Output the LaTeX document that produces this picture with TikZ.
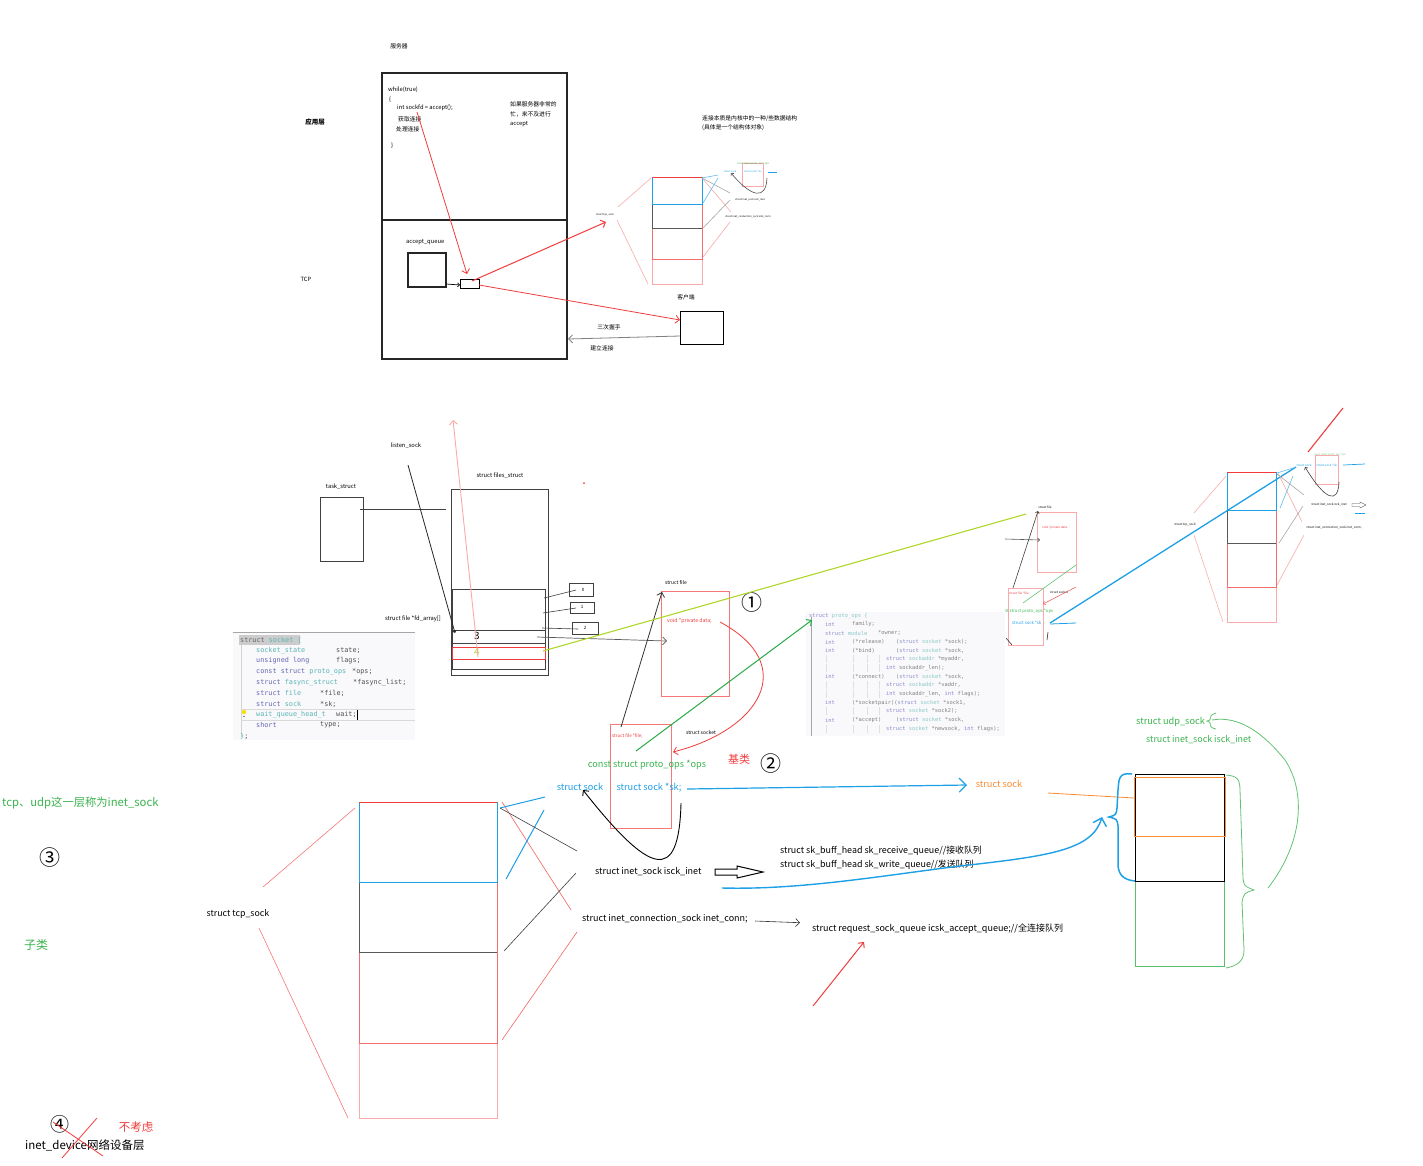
\documentclass[tikz,border=0pt]{standalone}
\usepackage{fontspec}
\setmainfont{Noto Sans CJK SC}
\setmonofont{DejaVu Sans Mono}
\usetikzlibrary{arrows.meta}
\definecolor{cred}{RGB}{240,60,60}
\definecolor{cpink}{RGB}{250,170,170}
\definecolor{cblue}{RGB}{30,160,230}
\definecolor{cgreen}{RGB}{60,180,80}
\definecolor{cdgreen}{RGB}{40,170,70}
\definecolor{cyg}{RGB}{175,215,40}
\definecolor{corange}{RGB}{250,140,50}
\definecolor{kwc}{RGB}{100,100,180}
\definecolor{tyc}{RGB}{90,180,180}
\definecolor{idc}{RGB}{80,80,80}
\definecolor{kwb}{RGB}{140,140,205}
\definecolor{tyb}{RGB}{140,200,200}
\definecolor{idb}{RGB}{130,130,130}
\definecolor{codebg}{RGB}{249,249,251}
\newcommand\kwd[1]{\textcolor{kwc}{#1}}
\newcommand\ctyp[1]{\textcolor{tyc}{#1}}
\newcommand\kwbb[1]{\textcolor{kwb}{#1}}
\newcommand\tybb[1]{\textcolor{tyb}{#1}}
\newcommand\sockstack[8]{%
  \draw[cpink, line width=#8] (#1,#3) rectangle (#2,#7);
  \draw[cred!75, line width=#8] (#1,#5) -- (#1,#6) -- (#2,#6) -- (#2,#3);
  \draw[black!65, line width=#8] (#1,#4) -- (#1,#5) -- (#2,#5);
  \draw[cblue, line width=#8] (#1,#3) rectangle (#2,#4);
  \draw[cred, line width=#8] (#1,#3) -- (#2,#3);
}
\begin{document}
\begin{tikzpicture}[x=1pt,y=-1pt,
  lbl/.style={inner sep=0pt, font=\fontsize{9.2}{10}\selectfont},
  sm/.style={inner sep=0pt, font=\fontsize{5.8}{6.5}\selectfont},
  mini/.style={inner sep=0pt, font=\fontsize{3}{3.5}\selectfont},
  micro/.style={inner sep=0pt, font=\fontsize{2.5}{3}\selectfont},
  bigc/.style={inner sep=0pt, font=\fontsize{21}{22}\selectfont},
  cjk/.style={inner sep=0pt, font=\fontsize{11}{12}\selectfont},
  codeA/.style={inner sep=0pt, anchor=west, font=\ttfamily\fontsize{6.8}{8}\selectfont, text=idc},
  codeB/.style={inner sep=0pt, anchor=west, font=\ttfamily\fontsize{5.4}{6}\selectfont, text=idb},
  barb/.style={-{Straight Barb[length=4pt,width=8pt]}},
  barbS/.style={-{Straight Barb[length=2pt,width=4pt]}},
  barbL/.style={-{Straight Barb[length=7pt,width=14pt]}},
  boxline/.style={black!85, line width=1.3pt},
  thin/.style={line width=0.6pt},
]
\fill[white] (0,0) rectangle (1423,1165);
\useasboundingbox (0,0) rectangle (1423,1165);

% ================= top: server =================
\node[sm] (srv) at (399,46) {服务器};
\draw[boxline] (382,73) rectangle (567,359);
\draw[boxline] (382,220) -- (567,220);
\node[inner sep=0pt, font=\bfseries\fontsize{6.5}{7}\selectfont] (app) at (315,122) {应用层};
\node[sm] (tcpl) at (306,279) {TCP};
\node[sm, anchor=west] (c1) at (388,90) {while(true)};
\node[sm, anchor=west] (c2) at (389,100) {\{};
\node[sm, anchor=west] (c3) at (397,108) {int sockfd = accept();};
\node[sm, anchor=west] (c4) at (398,119) {获取连接};
\node[sm, anchor=west] (c5) at (396,129) {处理连接};
\node[sm, anchor=west] (c6) at (391,146) {\}};
\node[sm, anchor=west] (busy1) at (510,104) {如果服务器非常的};
\node[sm, anchor=west] (busy2) at (510,114) {忙，来不及进行};
\node[sm, anchor=west] (busy3) at (510,124) {accept};
\node[sm, anchor=west] (aq) at (406,242) {accept\_queue};
\draw[boxline] (408,253) rectangle (446,287);
\draw[black, line width=0.7pt] (460,279) rectangle (479,288);
\draw[black, line width=0.7pt, barbS] (446,284) -- (460,285);
\draw[cred, line width=0.8pt, barb] (417,112) -- (467,274);
\draw[cred, line width=1pt, barb] (472,281) -- (606,222);
\draw[cred, line width=0.8pt, barb] (479,285) -- (680,320);
\draw[black, line width=0.8pt] (680,311) rectangle (723,344);
\node[sm] (cli) at (686,297) {客户端};
\draw[gray, line width=0.8pt, barb] (680,336) -- (568,339);
\node[sm] (hs) at (609,327) {三次握手};
\node[sm] (est) at (602,348) {建立连接};
\node[sm, anchor=west] (n1) at (702,119) {连接本质是内核中的一种/些数据结构};
\node[sm, anchor=west] (n2) at (702,128) {(具体是一个结构体对象)};

% ---- top mini tcp_sock
\sockstack{652}{702}{177}{204}{228}{259}{284}{0.6pt}
\draw[cpink, thin] (618,207) -- (651,178) (617,220) -- (648,284);
\draw[cpink, thin] (702,178) -- (731,212) (730,222) -- (703,257);
\draw[black!35, thin] (702,178) -- (730,193) (730,200) -- (703,228);
\draw[cblue!70, thin] (702,178) -- (718,175) (718,178) -- (703,203);
\node[micro] (tts) at (605,215) {struct tcp\_sock};
\node[micro] (tis) at (750,200) {struct inet\_sock isck\_inet};
\node[micro] (tic) at (748,217) {struct inet\_connection\_sock inet\_conn};
\draw[cpink, thin] (742,163) rectangle (763,186);
\node[micro, text=cgreen] (tops) at (753,164) {const struct proto\_ops *ops};
\node[micro, text=cblue] (tss) at (730,172) {struct sock};
\node[micro, text=cblue] (tsk) at (753,172) {struct sock *sk;};
\draw[cblue, thin] (768,172) -- (777,172);
\draw[black!70, thin, barbS] (767,178) .. controls (766,200) and (752,198) .. (731,173);

% ================= middle =================
\node[sm] (ls) at (406,446) {listen\_sock};
\node[sm] (ts) at (341,487) {task\_struct};
\draw[black!75, line width=0.8pt] (320,497) rectangle (363,561);
\draw[black!75, line width=0.8pt] (360,509) -- (446,509);
\node[sm] (fs) at (500,476) {struct files\_struct};
\draw[black!75, line width=0.8pt] (451,489) rectangle (548,675);
\draw[black!75, line width=0.7pt] (452,589) rectangle (545,669);
\draw[black!75, line width=0.7pt] (452,630) -- (545,630) (452,643) -- (545,643);
\draw[cred, line width=0.9pt] (452,647) rectangle (545,659);
\node[inner sep=0pt, font=\fontsize{10}{11}\selectfont] (n3) at (477,636) {3};
\node[inner sep=0pt, font=\fontsize{10}{11}\selectfont, text=cyg] (n4) at (477,652) {4};
\node[sm] (fda) at (413,619) {struct file *fd\_array[]};
\draw[black!75, thin] (569,583) rectangle (593,596);
\draw[black!75, thin] (570,602) rectangle (594,613);
\draw[black!75, thin] (572,622) rectangle (598,634);
\node[mini, font=\fontsize{4.5}{5}\selectfont] (f0) at (583,590) {0};
\node[mini, font=\fontsize{4.5}{5}\selectfont] (f1) at (582,607) {1};
\node[mini, font=\fontsize{4.5}{5}\selectfont] (f2) at (585,628) {2};
\draw[black!75, thin] (544,598) -- (576,590) (543,613) -- (576,608) (542,628) -- (578,629);
\draw[black!65, line width=0.7pt, barb] (537,637) -- (667,641);
\draw[black!85, line width=0.8pt, barbS] (408,465) -- (455,633);
\draw[cpink, line width=0.9pt, barb] (478,657) -- (453,420);
\fill[cred] (584,483) circle (1pt);

% ---- struct socket code image
\fill[codebg] (233,633) rectangle (415,740);
\draw[gray!70, line width=1pt] (233,632) -- (415,632);
\draw[gray!35, line width=0.4pt] (241,640) -- (241,737);
\draw[gray!30, line width=0.4pt] (241,709) -- (415,709) (241,720) -- (415,720);
\fill[gray!40] (239,635) rectangle (300,645);
\node[codeA] (sk0) at (240,640) {\textcolor{black!60}{struct} \ctyp{socket \{}};
\node[codeA] (sk1a) at (256,651) {\ctyp{socket\_state}};
\node[codeA] (sk1b) at (336,651) {state;};
\node[codeA] (sk2a) at (256,661) {\kwd{unsigned long}};
\node[codeA] (sk2b) at (336,661) {flags;};
\node[codeA] (sk3a) at (256,672) {\kwd{const struct} \ctyp{proto\_ops}};
\node[codeA] (sk3b) at (352,672) {*ops;};
\node[codeA] (sk4a) at (256,682.7) {\kwd{struct} \ctyp{fasync\_struct}};
\node[codeA] (sk4b) at (353,682.7) {*fasync\_list;};
\node[codeA] (sk5a) at (256,693) {\kwd{struct} \ctyp{file}};
\node[codeA] (sk5b) at (320,693) {*file;};
\node[codeA] (sk6a) at (256,704) {\kwd{struct} \ctyp{sock}};
\node[codeA] (sk6b) at (320,704) {*sk;};
\node[codeA] (sk7a) at (256,714.7) {\ctyp{wait\_queue\_head\_t}};
\node[codeA] (sk7b) at (336,714.7) {wait;};
\node[codeA] (sk8a) at (256,725) {\kwd{short}};
\node[codeA] (sk8b) at (320,725) {type;};
\node[codeA] (sk9) at (240,736) {\ctyp{\}};};
\fill[yellow!80!orange] (244,712) circle (2.2pt);
\fill[gray] (243,715.5) rectangle (245,717);
\draw[black, line width=0.6pt] (357.5,709.5) -- (357.5,719.5);

% ---- struct proto_ops code image
\fill[codebg] (806,612) rectangle (1005,736);
\draw[gray!70, line width=0.8pt] (811,617) -- (811,736);
\foreach \yy in {659.3,668,685.3,694,711.3,728.7}
  \foreach \xx in {826,853,867,879}
    \draw[gray!25, line width=0.4pt] (\xx,\yy-4) -- (\xx,\yy+4);
\node[codeB] (po0) at (809,615.7) {\kwbb{struct} \tybb{proto\_ops \{}};
\node[codeB] (po1a) at (825,624) {\kwbb{int}};
\node[codeB] (po1b) at (852,624) {family;};
\node[codeB] (po2a) at (825,633) {\kwbb{struct} \tybb{module}};
\node[codeB] (po2b) at (878,633) {*owner;};
\node[codeB] (po3a) at (825,642) {\kwbb{int}};
\node[codeB] (po3b) at (852,642) {(*release)};
\node[codeB] (po3c) at (896,642) {(\kwbb{struct} \tybb{socket} *sock);};
\node[codeB] (po4a) at (825,650.7) {\kwbb{int}};
\node[codeB] (po4b) at (852,650.7) {(*bind)};
\node[codeB] (po4c) at (896,650.7) {(\kwbb{struct} \tybb{socket} *sock,};
\node[codeB] (po5) at (886,659.3) {\kwbb{struct} \tybb{sockaddr} *myaddr,};
\node[codeB] (po6) at (886,668) {\kwbb{int} sockaddr\_len);};
\node[codeB] (po7a) at (825,676.7) {\kwbb{int}};
\node[codeB] (po7b) at (852,676.7) {(*connect)};
\node[codeB] (po7c) at (896,676.7) {(\kwbb{struct} \tybb{socket} *sock,};
\node[codeB] (po8) at (886,685.3) {\kwbb{struct} \tybb{sockaddr} *vaddr,};
\node[codeB] (po9) at (886,694) {\kwbb{int} sockaddr\_len, \kwbb{int} flags);};
\node[codeB] (po10a) at (825,702.7) {\kwbb{int}};
\node[codeB] (po10b) at (852,702.7) {(*socketpair)(\kwbb{struct} \tybb{socket} *sock1,};
\node[codeB] (po11) at (886,711.3) {\kwbb{struct} \tybb{socket} *sock2);};
\node[codeB] (po12a) at (825,720) {\kwbb{int}};
\node[codeB] (po12b) at (852,720) {(*accept)};
\node[codeB] (po12c) at (896,720) {(\kwbb{struct} \tybb{socket} *sock,};
\node[codeB] (po13) at (886,728.7) {\kwbb{struct} \tybb{socket} *newsock, \kwbb{int} flags);};

% ---- struct file / struct socket
\node[inner sep=0pt, font=\fontsize{5}{6}\selectfont] (sfl) at (676,582) {struct file};
\draw[cred!70, line width=0.8pt] (661,591) rectangle (729,696);
\node[inner sep=0pt, anchor=west, text=cred, font=\fontsize{5.2}{6}\selectfont] (pd) at (667,621) {void *private data;};
\node[bigc] (c1n) at (752,603) {①};
\draw[cred!70, line width=0.8pt] (610,724) rectangle (671,828);
\node[inner sep=0pt, anchor=west, text=cred, font=\fontsize{4.5}{5}\selectfont] (sff) at (612,736) {struct file *file;};
\node[inner sep=0pt, font=\fontsize{5}{6}\selectfont] (ssl) at (701,733) {struct socket};
\node[lbl, text=cgreen] (ops) at (647,765) {const struct proto\_ops *ops};
\node[lbl, text=cblue] (sksk) at (649,788) {struct sock *sk;};
\node[lbl, text=cblue] (ssock) at (580,787) {struct sock};
\node[cjk, text=cred] (base) at (739,759) {基类};
\node[bigc] (c2n) at (771,764) {②};
\draw[black!80, line width=0.8pt, barb] (621,727) -- (662,592);
\draw[cred, line width=0.8pt, barb] (720,622) .. controls (800,665) and (760,730) .. (673,752);
\draw[black, line width=0.9pt, barb] (681,803) .. controls (679,885) and (650,875) .. (583,790);
\draw[cblue, line width=1.2pt, barbL] (687,789) -- (967,785);
\node[lbl, text=corange] (osock) at (999,784) {struct sock};
\draw[cyg, line width=1.1pt] (543,651) -- (1026,514);
\draw[cdgreen, line width=1pt, barb] (636,751) -- (812,620);
\draw[cblue, line width=1.3pt] (1050,623) -- (1296,467);

% ---- right mini file/socket
\node[mini] (rfl) at (1045,507) {struct file};
\draw[cpink, thin] (1037,512) rectangle (1076,572);
\node[mini, anchor=west, text=cred] (rpd) at (1042,528) {void *private data:};
\draw[cpink, thin] (1008,588) rectangle (1043,645);
\node[mini, anchor=west, text=cred] (rff) at (1009,593) {struct file *file};
\node[mini, anchor=west] (rsl) at (1050,592) {struct socket};
\node[inner sep=0pt, anchor=west, text=cgreen, font=\fontsize{4.3}{5}\selectfont] (rops) at (1005,611) {st struct proto\_ops *ops};
\node[inner sep=0pt, anchor=west, text=cblue, font=\fontsize{4.3}{5}\selectfont] (rsk) at (1012,623) {struct sock *sk};
\draw[black!75, thin, barbS] (1013,588) -- (1038,511);
\draw[black!65, thin, barbS] (1005,539) -- (1040,540);
\draw[cgreen!80, thin] (1023,603) -- (1076,565);
\draw[cred!80, thin, barbS] (1076,587) -- (1043,604);
\draw[cblue, line width=0.8pt] (1050,624) -- (1076,623);
\draw[black!80, thin] (1048,632) -- (1047,640) (1006,638) -- (1012,645);

% ---- right mini tcp_sock
\sockstack{1227}{1276}{472}{510}{543}{587}{622}{0.7pt}
\draw[cpink, thin] (1194,513) -- (1226,476) (1194,535) -- (1223,622);
\draw[cpink, thin] (1278,473) -- (1302,522) (1304,535) -- (1277,585);
\draw[cblue!70, thin] (1277,473) -- (1296,467) (1293,476) -- (1280,508);
\draw[black!35, thin] (1277,474) -- (1304,495) (1303,506) -- (1279,543);
\node[mini] (rts) at (1185,525) {struct tcp\_sock};
\node[mini] (ris) at (1329,505) {struct inet\_sock isck\_inet};
\node[mini] (ric) at (1334,528) {struct inet\_connection\_sock inet\_conn;};
\draw[black!70, line width=0.4pt] (1352,503.5) -- (1360,503.5) -- (1360,502) -- (1366,505) -- (1360,508) -- (1360,506.5) -- (1352,506.5) -- cycle;
\draw[cblue, line width=0.7pt] (1355,513) -- (1365,513);
\draw[cpink, thin] (1315,455) rectangle (1338,484);
\node[micro, text=cgreen!70] (rtops) at (1330,455) {const struct proto\_ops *ops};
\node[mini, text=cblue] (rtss) at (1304,465) {struct sock};
\node[mini, text=cblue] (rtsk) at (1327,466) {struct sock *sk;};
\draw[cblue, line width=0.7pt] (1343,465) -- (1365,464);
\draw[black!75, thin, barbS] (1339,482) .. controls (1338,505) and (1325,500) .. (1305,467);
\draw[cred, line width=1.1pt] (1308,452) -- (1343,408);

% ================= bottom: tcp_sock =================
\sockstack{359}{497}{802}{882}{952}{1043}{1118}{1pt}
\draw[cred!70, thin] (355,808) -- (263,887);
\draw[cred!70, thin] (259,928) -- (348,1118);
\draw[cred!80, thin] (502,802) -- (571,910);
\draw[cred!80, thin] (577,932) -- (502,1040);
\draw[cblue, line width=1pt] (500,808) -- (545,797);
\draw[cblue, line width=1pt] (544,810) -- (506,879);
\draw[black!75, thin] (500,808) -- (577,851);
\draw[black!75, thin] (576,873) -- (504,951);
\node[lbl, font=\fontsize{8.8}{9}\selectfont] (tcps) at (238,914) {struct tcp\_sock};
\node[lbl, anchor=west, font=\fontsize{9}{10}\selectfont] (isk) at (595,872) {struct inet\_sock isck\_inet};
\node[lbl, anchor=west, font=\fontsize{9}{10}\selectfont] (icsk) at (582,919) {struct inet\_connection\_sock inet\_conn;};
\draw[black, line width=1pt] (715,869) -- (737,869) -- (737,866) -- (763,872) -- (737,878) -- (737,875) -- (715,875) -- cycle;
\node[lbl, anchor=west, font=\fontsize{8.9}{10}\selectfont] (rq) at (780,850.7) {struct sk\_buff\_head sk\_receive\_queue//接收队列};
\node[lbl, anchor=west, font=\fontsize{8.9}{10}\selectfont] (wq) at (780,865) {struct sk\_buff\_head sk\_write\_queue//发送队列};
\draw[black!80, thin, barb] (755,921) -- (800,922.7);
\node[lbl, anchor=west, font=\fontsize{9}{10}\selectfont] (aqq) at (812,929) {struct request\_sock\_queue icsk\_accept\_queue;//全连接队列};
\draw[cred, line width=1pt, barb] (813,1006) -- (864,942);
\draw[cblue, line width=1.4pt, barbL] (722,888) .. controls (800,890) and (880,876) .. (960,866) .. controls (1050,856) and (1092,850) .. (1102,817);

\node[inner sep=0pt, anchor=west, text=cgreen, font=\fontsize{11.3}{12}\selectfont] (layer) at (2,803) {tcp、udp这一层称为inet\_sock};
\node[bigc] (c3n) at (49.5,858) {③};
\node[inner sep=0pt, text=cgreen, font=\fontsize{12}{13}\selectfont] (sub) at (36,945) {子类};
\node[inner sep=0pt, font=\fontsize{19}{20}\selectfont] (c4n) at (60,1124) {④};
\node[inner sep=0pt, anchor=west, font=\fontsize{11.5}{12}\selectfont] (dev) at (25,1145) {inet\_device网络设备层};
\node[inner sep=0pt, text=cred, font=\fontsize{11.5}{12}\selectfont] (nc) at (136,1127) {不考虑};
\draw[cred, line width=0.8pt] (53,1122) -- (103,1156) (97,1118) -- (62,1158);

% ================= bottom right: udp_sock =================
\node[lbl, anchor=west, text=cgreen] (udp) at (1136,722) {struct udp\_sock};
\node[lbl, anchor=west, text=cgreen, font=\fontsize{8.9}{10}\selectfont] (uis) at (1146,740) {struct inet\_sock isck\_inet};
\draw[cgreen!85, line width=1pt] (1135,774) rectangle (1224,966);
\draw[black, line width=1pt] (1135,774) rectangle (1224,881);
\draw[corange, line width=1pt] (1134,777) rectangle (1225,836);
\draw[corange, line width=0.8pt] (1048,793) -- (1134,798);
\draw[cblue, line width=1.5pt] (1132,774) .. controls (1118,772) and (1119,780) .. (1118,790) -- (1117,808) .. controls (1116,815) .. (1109,817) .. controls (1117,819) .. (1118,826) -- (1118,866) .. controls (1119,876) and (1125,880) .. (1135,881);
\draw[cgreen!80, line width=0.8pt] (1226,775) .. controls (1236,776) and (1240,778) .. (1240,790) -- (1243,878) .. controls (1244,886) .. (1254,890) .. controls (1244,893) .. (1242,902) -- (1244,950) .. controls (1244,962) and (1236,966) .. (1226,968);
\draw[cgreen!80, line width=0.8pt] (1216,713) .. controls (1206,716) and (1214,720) .. (1207,721) .. controls (1214,723) and (1206,727) .. (1216,729);
\draw[cgreen!80, line width=0.8pt] (1212,720) .. controls (1240,715) and (1265,735) .. (1285,760) .. controls (1305,790) and (1305,840) .. (1268,888);
\end{tikzpicture}
\end{document}
